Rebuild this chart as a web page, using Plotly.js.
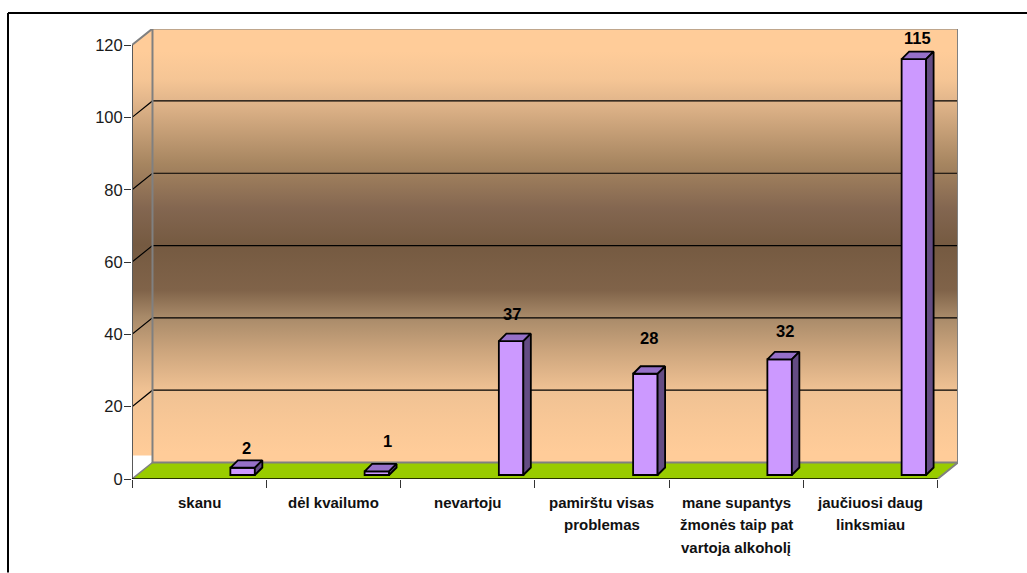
<!DOCTYPE html>
<html>
<head>
<meta charset="utf-8">
<script src="https://cdn.plot.ly/plotly-3.0.1.min.js"></script>
<style>html,body{margin:0;padding:0;background:#fff}#chart{width:1027px;height:573px}</style>
</head>
<body>
<div id="chart"></div>
<script>
// Survey answers and their counts; each answer is a list of text lines
const categories = [['skanu'], ['dėl kvailumo'], ['nevartoju'], ['pamirštu visas', 'problemas'],
  ['mane supantys', 'žmonės taip pat', 'vartoja alkoholį'], ['jaučiuosi daug', 'linksmiau']];
const values = [2, 1, 37, 28, 32, 115];
const yTicks = [0, 20, 40, 60, 80, 100, 120];

// Hand placement of the value labels relative to each bar top (pixels)
const labelShiftX = [4, 11, 0.5, 4, 5.5, 4];
const labelLift = [19.5, 30, 27, 36, 28, 21];

// Scales: one category slot and one y unit in pixels, and the plot box
const slotPx = 134.33, unitPx = 3.62;
const plotLeft = 132, plotRight = 958, plotTop = 29, plotBottom = 479.5;
const depthX = 20.5 / slotPx, depthY = 16.5 / unitPx;      // depth of the box
const barOffset = 43.5 / slotPx, barWidth = 24.5 / slotPx; // bar position within a slot
const barBase = 4 / unitPx;                                // bars stand inside the floor
const barDepthX = 7.5 / slotPx, barDepthY = 7.5 / unitPx;  // depth of a bar
const xRange = [-0.5, 5.5 + depthX], yRange = [0, (plotBottom - plotTop) / unitPx];
const xMin = -0.5, xMax = 5.5, yMax = 120;

const wallGradient = {
  type: 'vertical', start: 0, stop: yRange[1],
  colorscale: [[0, '#FFCC99'], [0.06, '#FFCC99'], [0.13, '#F8C796'], [0.2, '#EFC193'], [0.287, '#CBA47C'],
    [0.36, '#A88A69'], [0.42, '#806349'], [0.52, '#755A41'], [0.6, '#836650'], [0.7, '#A68560'],
    [0.84, '#E2B68B'], [0.887, '#F5C595'], [0.95, '#FFCC99'], [1, '#FFCC99']]
};

const poly = (xs, ys, fill, extra) => Object.assign({
  x: xs, y: ys, type: 'scatter', mode: 'lines', fill: 'toself', fillcolor: fill,
  line: {width: 0}, hoverinfo: 'skip', showlegend: false, cliponaxis: false
}, extra || {});
const path = (xs, ys, color, width, extra) => Object.assign({
  x: xs, y: ys, type: 'scatter', mode: 'lines', line: {color, width},
  hoverinfo: 'skip', showlegend: false, cliponaxis: false
}, extra || {});

const backX0 = xMin + depthX, backX1 = xMax + depthX, backTop = yMax + depthY;
const traces = [];

// Side wall, back wall and floor of the box
traces.push(poly([xMin, backX0, backX0, xMin, xMin], [yMax, backTop, 6.5, 6.5, yMax], '#FFCC99',
  {fillgradient: wallGradient}));
traces.push(poly([backX0, backX1, backX1, backX0, backX0], [depthY, depthY, backTop, backTop, depthY], '#FFCC99',
  {fillgradient: wallGradient}));
traces.push(poly([xMin, xMax, backX1, backX0, xMin], [0, 0, depthY, depthY, 0], '#99CC00'));

// Gridlines run along the side wall and across the back wall
const gridX = [], gridY = [];
yTicks.filter(t => t > 0 && t < yMax).forEach(t => {
  gridX.push(xMin, backX0, backX1, null);
  gridY.push(t, t + depthY, t + depthY, null);
});
traces.push(path(gridX, gridY, '#000000', 1.2));

// Box edges and the two front axis lines
traces.push(path([xMin, backX0, backX1, backX1, xMax], [yMax, backTop, backTop, depthY, 0], '#808080', 2));
traces.push(path([backX0, backX0, backX1], [backTop, depthY, depthY], '#808080', 2));
traces.push(path([xMin, backX0], [0, depthY], '#808080', 1.5));
traces.push(path([xMin, xMin], [0, yMax], '#595959', 2));
traces.push(path([xMin, xMax], [0, 0], '#000000', 1.5));

// Front faces of the bars, on the overlaying axes so they sit above the box
const barStart = categories.map((c, i) => i + barOffset - barWidth / 2);
traces.push({
  type: 'bar', xaxis: 'x2', yaxis: 'y2', x: categories.map((c, i) => i + barOffset), y: values,
  base: barBase, width: barWidth, marker: {color: '#CC99FF', line: {color: '#000000', width: 1.8}},
  hoverinfo: 'skip', showlegend: false
});
// Top and side faces of the bars
values.forEach((v, i) => {
  const x0 = barStart[i], x1 = x0 + barWidth, yb = barBase, yt = barBase + v;
  traces.push(poly([x0, x0 + barDepthX, x1 + barDepthX, x1, x0], [yt, yt + barDepthY, yt + barDepthY, yt, yt], '#9670C8',
    {xaxis: 'x2', yaxis: 'y2', line: {color: '#000000', width: 1.8}}));
  traces.push(poly([x1, x1 + barDepthX, x1 + barDepthX, x1, x1], [yb, yb + barDepthY, yt + barDepthY, yt, yb], '#644C84',
    {xaxis: 'x2', yaxis: 'y2', line: {color: '#000000', width: 1.8}}));
});

// Value labels
const annotations = values.map((v, i) => ({
  x: barStart[i] + barWidth / 2, y: barBase + v, xref: 'x2', yref: 'y2', text: String(v), showarrow: false,
  xshift: labelShiftX[i], yshift: labelLift[i], xanchor: 'center', yanchor: 'middle',
  font: {family: 'Liberation Sans, Arial, sans-serif', size: 16.5, color: '#000000', weight: 700}
}));

// Category names, one annotation per line for the wide line spacing
const labelFirstLine = 23, labelLineGap = 22.5;
categories.forEach((lines, i) => lines.forEach((line, n) => annotations.push({
  x: i, y: 0, xref: 'x2', yref: 'y2', text: line, showarrow: false,
  yshift: -(labelFirstLine + n * labelLineGap), xanchor: 'center', yanchor: 'middle',
  font: {family: 'Liberation Sans, Arial, sans-serif', size: 15, color: '#111111', weight: 700}
})));

const axisFont = {family: 'Liberation Sans, Arial, sans-serif', size: 16.5, color: '#1a1a1a'};
const frameX = (8 - plotLeft) / (plotRight - plotLeft);
const frameTop = (plotBottom - 13) / (plotBottom - plotTop);
const frameBottom = (plotBottom - 573) / (plotBottom - plotTop);
const layout = {
  width: 1027, height: 573, paper_bgcolor: '#ffffff', plot_bgcolor: 'rgba(0,0,0,0)',
  margin: {l: plotLeft, r: 1027 - plotRight, t: plotTop, b: 573 - plotBottom, pad: 0},
  showlegend: false, barmode: 'overlay', annotations,
  xaxis: {
    type: 'linear', range: xRange, fixedrange: true, showgrid: false, zeroline: false, showline: false,
    tickmode: 'array', tickvals: categories.map((c, i) => i - 0.5).concat(xMax), ticktext: categories.map(() => '').concat(''),
    ticks: 'outside', ticklen: 8, tickwidth: 1, tickcolor: '#333333', tickfont: axisFont
  },
  xaxis2: {
    type: 'linear', range: xRange, overlaying: 'x', anchor: 'y', fixedrange: true, visible: false
  },
  yaxis: {
    type: 'linear', range: yRange, fixedrange: true, showgrid: false, zeroline: false, showline: false,
    tickmode: 'array', tickvals: yTicks, ticks: 'outside', ticklen: 7, tickwidth: 1, tickcolor: '#333333',
    tickfont: axisFont, ticklabelstandoff: -2, automargin: false
  },
  yaxis2: {
    type: 'linear', range: yRange, overlaying: 'y', fixedrange: true, visible: false
  },
  shapes: [
    // Outer frame along the left and top of the page
    {type: 'line', xref: 'paper', yref: 'paper', x0: frameX, x1: 1.1, y0: frameTop, y1: frameTop, line: {color: '#000', width: 2}},
    {type: 'line', xref: 'paper', yref: 'paper', x0: frameX, x1: frameX, y0: frameTop, y1: frameBottom, line: {color: '#000', width: 2}}
  ]
};

Plotly.newPlot('chart', traces, layout, {displayModeBar: false, staticPlot: true});
</script>
</body>
</html>
